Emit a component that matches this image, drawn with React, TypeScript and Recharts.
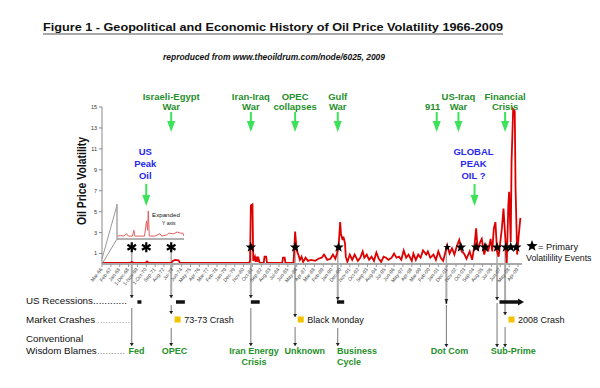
import React from 'react';
import { ComposedChart, LineChart, Line, Scatter, XAxis, YAxis, ReferenceLine, ReferenceDot } from 'recharts';

const FONT = '"Liberation Sans", Arial, Helvetica, sans-serif';
const RED = '#dd0000';
const GREEN_TEXT = '#1f8f2a';
const GREEN_ARROW = '#3ce25a';
const BLUE = '#2828ee';

// months counted from Mar-66
const months = [
  0, 20, 35, 37, 39, 54, 56, 58, 86, 88, 91, 95, 97, 120, 150, 175, 183,
  184, 185, 187, 188, 190, 191, 192, 193, 194, 196, 201, 202, 204, 205, 224, 225, 227, 228, 238,
  239, 240, 241, 242, 244, 246, 248, 250, 253, 256, 260, 265, 269, 273, 276, 280, 284, 287, 290, 292, 294,
  296, 297, 299, 300, 302, 303, 305, 308, 311, 314, 318, 321, 324, 326, 329, 332, 335, 338, 341, 344, 347,
  350, 353, 356, 360, 363, 366, 369, 372, 375, 378, 381, 385,
  387, 390, 393, 396, 399, 403, 405, 408, 412, 415, 418, 421, 424, 427, 429, 432, 435, 438, 441, 444, 447,
  450, 453, 457, 460, 463, 465, 467, 470, 472, 475, 478, 480, 483, 485, 487, 489, 491, 493, 495, 497, 499,
  501, 503, 505, 506, 508, 509, 511, 513, 514, 516, 518, 520,
];
const volatility = [
  0.1, 0.1, 0.1, 0.2, 0.1, 0.1, 0.25, 0.1, 0.1, 0.3, 0.4, 0.35, 0.1, 0.1, 0.1, 0.1, 0.1,
  0.3, 5.6, 5.7, 0.3, 0.7, 0.2, 0.7, 0.2, 0.7, 0.1, 0.1, 0.7, 0.7, 0.1, 0.1, 0.6, 0.6, 0.1, 0.1,
  1.4, 3.1, 2.2, 1.3, 0.9, 0.4, 0.7, 0.2, 0.6, 0.3, 0.4, 0.3, 0.5, 0.6, 0.9, 0.4, 0.5, 0.9, 0.5, 1.0, 1.6,
  4.0, 2.9, 2.3, 2.6, 2.0, 0.7, 0.2, 0.9, 0.4, 0.9, 0.3, 0.6, 1.2, 0.6, 0.9, 0.4, 0.7, 0.3, 1.1, 0.5, 0.2,
  0.7, 0.6, 0.4, 0.6, 1.0, 0.6, 0.7, 0.4, 1.3, 0.6, 0.9, 0.3,
  1.0, 0.4, 0.9, 0.6, 1.3, 0.9, 1.2, 0.6, 0.9, 0.4, 1.2, 0.6, 0.3, 1.2, 1.8, 1.0, 1.5, 0.9, 1.7, 2.3, 1.2,
  1.0, 0.5, 1.2, 0.4, 1.8, 3.4, 1.3, 2.1, 2.4, 0.9, 1.7, 1.2, 2.4, 1.2, 3.4, 4.0, 1.2, 0.7, 2.1, 3.4, 5.3,
  2.8, 0.0, 5.6, 6.9, 2.1, 9.7, 14.8, 14.6, 7.2, 0.9, 2.8, 4.4,
];

const tickLabels = [
  'Mar-66', 'Feb-67', 'Jan-68', '1-Dec-68', '1-Nov-69', '1-Oct-70', 'Sep-71', 'Aug-72', 'Jul-73', 'Jun-74',
  'May-75', 'Apr-76', 'Mar-77', 'Feb-78', 'Jan-79', 'Dec-79', 'Nov-80', 'Oct-81', 'Sep-82', 'Aug-83',
  'Jul-84', 'Jun-85', 'May-86', 'Apr-87', 'Mar-88', 'Feb-89', 'Jan-90', 'Dec-90', 'Nov-91', 'Oct-92',
  'Sep-93', 'Aug-94', 'Jul-95', 'Jun-96', 'May-97', 'Apr-98', 'Mar-99', 'Feb-00', 'Jan-01', 'Dec-01',
  'Nov-02', 'Oct-03', 'Sep-04', 'Aug-05', 'Jul-06', 'Jun-07', 'May-08', 'Apr-09',
];
const tickMonths = tickLabels.map((_, i) => i * 11);
const yTicks = [1, 3, 5, 7, 9, 11, 13, 15];

const starLevel = 1.6;
const asteriskMonths = [37, 55, 86];
const starMonths = [185, 240, 294, 446, 465, 476, 491, 502, 508, 515];
const smallStarMonths = [429];

// expanded inset (1966-1982)
const insetMonths = [2, 10, 20, 28, 33, 45, 49, 52, 70, 80, 86, 89, 91, 94, 110, 125, 130, 145, 150, 165, 175, 185, 192, 195];
const insetValues = [0.05, 0.06, 0.05, 0.09, 0.05, 0.05, 0.15, 0.05, 0.05, 0.05, 0.31, 0.15, 0.48, 0.05, 0.05, 0.09, 0.05, 0.07, 0.1, 0.09, 0.12, 0.1, 0.1, 0.05];

const topEventMonths = [86, 185, 240, 293, 416, 443, 501];
const topEventLabels = [['Israeli-Egypt', 'War'], ['Iran-Iraq', 'War'], ['OPEC', 'collapses'], ['Gulf', 'War'], ['911'], ['US-Iraq', 'War'], ['Financial', 'Crisis']];
const peakMonths = [55, 463];
const peakLabels = [['US', 'Peak', 'Oil'], ['GLOBAL', 'PEAK', 'OIL ?']];

const recessionStarts = [44, 92, 185, 292, 427, 494];
const recessionEnds = [49, 103, 196, 301, 429, 517];

const crashMonths = [94, 247, 509];
const crashLabels = ['73-73 Crash', 'Black Monday', '2008 Crash'];

const blameMonths = [43, 90, 189, 252, 292, 432, 511];
const blameLabels = [['Fed'], ['OPEC'], ['Iran Energy', 'Crisis'], ['Unknown'], ['Business', 'Cycle'], ['Dot Com'], ['Sub-Prime']];

const dropMonths = [37, 86, 185, 240, 293, 428, 491, 501];
const dropSegments = [
  [[0, 34], [44, 82]],
  [[0, 34], [41, 50], [64, 82]],
  [[0, 34], [44, 82]],
  [[0, 53], [63, 82]],
  [[0, 36], [64, 82]],
  [[0, 38], [41, 83]],
  [[0, 36], [39, 83]],
  [[0, 51], [63, 83]],
];

const rows = months.map((m, i) => ({ m, v: volatility[i] }));
const insetRows = insetMonths.map((m, i) => ({ m, v: insetValues[i] }));
const asteriskRows = asteriskMonths.map(m => ({ m, v: starLevel }));
const starRows = starMonths.map(m => ({ m, v: starLevel }));
const smallStarRows = smallStarMonths.map(m => ({ m, v: starLevel }));

const starPoints = (cx: number, cy: number, r: number) => {
  const pts: string[] = [];
  for (let i = 0; i < 10; i++) {
    const a = -Math.PI / 2 + (i * Math.PI) / 5;
    const rr = i % 2 === 0 ? r : r * 0.42;
    pts.push(`${cx + rr * Math.cos(a)},${cy + rr * Math.sin(a)}`);
  }
  return pts.join(' ');
};

const StarShape = (r: number) => (p: any) => <polygon points={starPoints(p.cx, p.cy, r)} fill="#000" />;

const AsteriskShape = (p: any) => (
  <g stroke="#000" strokeWidth={2.2}>
    <line x1={p.cx} y1={p.cy - 5} x2={p.cx} y2={p.cy + 5} />
    <line x1={p.cx - 4.3} y1={p.cy - 2.5} x2={p.cx + 4.3} y2={p.cy + 2.5} />
    <line x1={p.cx - 4.3} y1={p.cy + 2.5} x2={p.cx + 4.3} y2={p.cy - 2.5} />
  </g>
);

const DownArrow = ({ cx, top, shaft, head, color }: any) => (
  <g fill={color}>
    <rect x={cx - 1} y={top} width={2} height={shaft} />
    <polygon points={`${cx - 4},${top + shaft - 1} ${cx + 4},${top + shaft - 1} ${cx},${top + shaft + head - 1}`} />
  </g>
);

const topEventShape = (lines: string[]) => (p: any) => {
  const { cx, cy } = p;
  const ys = lines.length === 2 ? [cy - 12.5, cy - 2.5] : [cy - 2.5];
  const dx = lines[0] === '911' ? -4 : 0;
  return (
    <g>
      {lines.map((t, i) => (
        <text key={i} x={cx + dx} y={ys[i]} textAnchor="middle" fontSize={9.5} fontWeight="bold" fill={GREEN_TEXT} fontFamily={FONT}>{t}</text>
      ))}
      <DownArrow cx={cx} top={cy} shaft={10} head={11} color={GREEN_ARROW} />
    </g>
  );
};

const peakShape = (lines: string[]) => (p: any) => {
  const { cx, cy } = p;
  return (
    <g>
      {lines.map((t, i) => (
        <text key={i} x={cx - 1} y={cy - 29 + i * 12} textAnchor="middle" fontSize={9.5} fontWeight="bold" fill={BLUE} fontFamily={FONT}>{t}</text>
      ))}
      <DownArrow cx={cx} top={cy} shaft={12} head={11} color={GREEN_ARROW} />
    </g>
  );
};

const crashShape = (label: string) => (p: any) => (
  <g>
    <rect x={p.cx - 3} y={p.cy - 3} width={6} height={6} fill="#f2c400" />
    <text x={p.cx + 6.5} y={p.cy + 3} fontSize={9} fill="#111" fontFamily={FONT}>{label}</text>
  </g>
);

const blameShape = (lines: string[]) => (p: any) => {
  const anchor = lines[0] === 'Business' ? 'start' : 'middle';
  return (
    <g>
      {lines.map((t, i) => (
        <text key={i} x={p.cx} y={p.cy + i * 11} textAnchor={anchor} fontSize={9} fontWeight="bold" fill={GREEN_TEXT} fontFamily={FONT}>{t}</text>
      ))}
    </g>
  );
};

const ArrowHead = (p: any) => <polygon points={`${p.cx - 2},${p.cy - 3} ${p.cx + 2},${p.cy - 3} ${p.cx},${p.cy}`} fill="#222" />;
const RightArrow = (p: any) => <polygon points={`${p.cx},${p.cy - 3.5} ${p.cx},${p.cy + 3.5} ${p.cx + 6},${p.cy}`} fill="#111" />;

const XTick = (props: any) => {
  const { x, y, payload } = props;
  const idx = tickMonths.indexOf(payload.value);
  return (
    <text x={x} y={y} dy={1} transform={`rotate(-52 ${x} ${y})`} textAnchor="end" fontSize={5} fill="#444" fontFamily={FONT}>
      {tickLabels[idx]}
    </text>
  );
};

export default function App() {
  return (
    <div style={{ position: 'absolute', left: 0, top: 0, width: 600, height: 388, background: '#fff', fontFamily: FONT }}>
      {/* lower annotation rows */}
      <div style={{ position: 'absolute', left: 0, top: 0 }}>
        <ComposedChart width={600} height={388} data={rows} margin={{ top: 264, right: 78, left: 102, bottom: 20 }}>
          <XAxis type="number" dataKey="m" domain={[0, 522]} hide />
          <YAxis type="number" domain={[0, 104]} reversed hide allowDataOverflow />
          {dropMonths.map((m, i) =>
            dropSegments[i].map(([a, b], j) => (
              <ReferenceLine
                key={`d${i}-${j}`}
                segment={[{ x: m, y: a }, { x: m, y: b }]}
                stroke={j === 0 ? '#aaa' : '#777'}
                strokeWidth={j === 0 ? 2 : 1}
              />
            ))
          )}
          {dropMonths.map((m, i) =>
            dropSegments[i].map(([, b], j) => (
              <ReferenceDot key={`h${i}-${j}`} x={m} y={b} r={0} shape={ArrowHead} />
            ))
          )}
          {recessionStarts.map((s, i) => (
            <ReferenceLine key={`r${i}`} segment={[{ x: s, y: 38 }, { x: recessionEnds[i], y: 38 }]} stroke="#111" strokeWidth={3.5} />
          ))}
          <ReferenceDot x={recessionEnds[recessionEnds.length - 1]} y={38} r={0} shape={RightArrow} />
          {crashMonths.map((m, i) => (
            <ReferenceDot key={`c${i}`} x={m} y={55.5} r={0} shape={crashShape(crashLabels[i])} />
          ))}
          {blameMonths.map((m, i) => (
            <ReferenceDot key={`b${i}`} x={m} y={90} r={0} shape={blameShape(blameLabels[i])} />
          ))}
        </ComposedChart>
      </div>

      {/* main volatility chart */}
      <div style={{ position: 'absolute', left: 0, top: 0 }}>
        <ComposedChart width={600} height={300} data={rows} margin={{ top: 107, right: 78, left: 72, bottom: 6 }}>
          <XAxis
            type="number"
            dataKey="m"
            domain={[0, 522]}
            ticks={tickMonths}
            interval={0}
            tick={<XTick />}
            height={30}
            tickSize={3}
            axisLine={{ stroke: '#aaa', strokeWidth: 2 }}
            tickLine={{ stroke: '#999' }}
            allowDataOverflow
          />
          <YAxis
            type="number"
            domain={[0, 15]}
            ticks={yTicks}
            interval={0}
            width={30}
            tickSize={3}
            tick={{ fontSize: 5.5, fill: '#333', fontFamily: FONT }}
            axisLine={{ stroke: '#888' }}
            tickLine={{ stroke: '#888' }}
            allowDataOverflow
          />
          {dropMonths.map(m => (
            <ReferenceLine key={`g${m}`} segment={[{ x: m, y: starLevel }, { x: m, y: 0 }]} stroke="#aaa" strokeWidth={1.5} />
          ))}
          <Line type="linear" dataKey="v" stroke={RED} strokeWidth={1.8} dot={false} isAnimationActive={false} />
          <Scatter data={asteriskRows} dataKey="v" shape={AsteriskShape} isAnimationActive={false} />
          <Scatter data={starRows} dataKey="v" shape={StarShape(5.5)} isAnimationActive={false} />
          <Scatter data={smallStarRows} dataKey="v" shape={StarShape(4)} isAnimationActive={false} />
          {topEventMonths.map((m, i) => (
            <ReferenceDot key={`t${i}`} x={m} y={14.52} r={0} ifOverflow="visible" shape={topEventShape(topEventLabels[i])} />
          ))}
          {peakMonths.map((m, i) => (
            <ReferenceDot key={`p${i}`} x={m} y={7.64} r={0} ifOverflow="visible" shape={peakShape(peakLabels[i])} />
          ))}
        </ComposedChart>
      </div>

      {/* expanded y axis inset */}
      <div style={{ position: 'absolute', left: 116, top: 204 }}>
        <LineChart width={68} height={36} data={insetRows} margin={{ top: 0, right: 0, left: 0, bottom: 0 }}>
          <XAxis type="number" dataKey="m" domain={[0, 195]} tick={false} tickLine={false} height={1} axisLine={{ stroke: '#999', strokeWidth: 1.3 }} />
          <YAxis type="number" domain={[0, 0.6]} tick={false} tickLine={false} width={1} axisLine={{ stroke: '#999', strokeWidth: 1.3 }} allowDataOverflow />
          <Line type="linear" dataKey="v" stroke="#e06060" strokeWidth={1} dot={false} isAnimationActive={false} />
        </LineChart>
      </div>

      <svg width={600} height={388} style={{ position: 'absolute', left: 0, top: 0, pointerEvents: 'none' }} fontFamily={FONT}>
        <text x={43} y={30.5} fontSize={11.5} fontWeight="bold" fill="#111" textLength={460} lengthAdjust="spacingAndGlyphs">
          Figure 1 - Geopolitical and Economic History of Oil Price Volatility 1966-2009
        </text>
        <line x1={43} y1={34} x2={503} y2={34} stroke="#555" strokeWidth={1.2} />
        <text x={163} y={60} fontSize={8.5} fontStyle="italic" fontWeight="bold" fill="#111" textLength={222} lengthAdjust="spacingAndGlyphs">
          reproduced from www.theoildrum.com/node/6025, 2009
        </text>
        <text
          x={86}
          y={181}
          transform="rotate(-90 86 181)"
          textAnchor="middle"
          fontSize={12.5}
          fontWeight="bold"
          fill="#111"
          textLength={88}
          lengthAdjust="spacingAndGlyphs"
        >
          Oil Price Volatility
        </text>

        <line x1={102} y1={259} x2={117} y2={205} stroke="#999" strokeWidth={1} />
        <line x1={102} y1={264} x2={117} y2={239} stroke="#999" strokeWidth={1} />
        <text x={152} y={217} fontSize={6.2} fill="#111">Expanded</text>
        <text x={162} y={224.5} fontSize={5} fill="#111">Y axis</text>

        <polygon points={starPoints(532, 246, 6)} fill="#000" />
        <text x={538} y={249.5} fontSize={9.3} fill="#111">= Primary</text>
        <text x={526} y={261} fontSize={8.8} fill="#111">Volatilility Events</text>

        <text x={26} y={304} fontSize={9.8} fill="#111">US Recessions</text>
        <text x={93} y={304} fontSize={9.8} fill="#111" textLength={34} lengthAdjust="spacing">............</text>
        <text x={26} y={322.5} fontSize={9.8} fill="#111">Market Crashes</text>
        <text x={97} y={322.5} fontSize={9.8} fill="#aaa" textLength={33} lengthAdjust="spacing">............</text>
        <text x={26} y={342} fontSize={9.8} fill="#111">Conventional</text>
        <text x={26} y={354} fontSize={9.8} fill="#111">Wisdom Blames</text>
        <text x={97} y={354} fontSize={9.8} fill="#888" textLength={28} lengthAdjust="spacing">..........</text>
      </svg>
    </div>
  );
}
